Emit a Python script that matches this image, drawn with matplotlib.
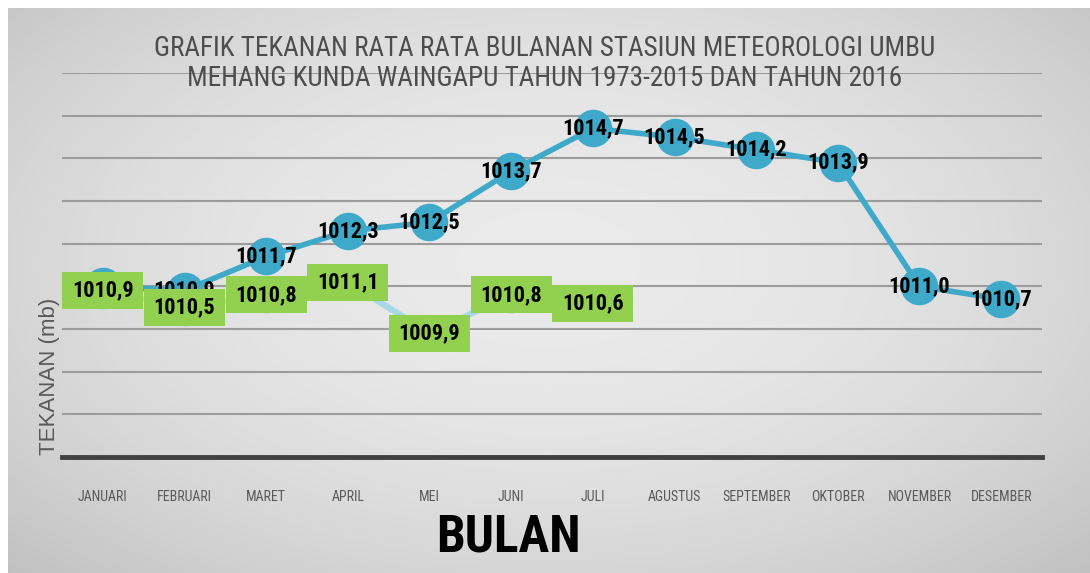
import numpy as np
import matplotlib
matplotlib.use('Agg')
import matplotlib.pyplot as plt
import matplotlib.transforms as mtransforms
from matplotlib.patches import Rectangle

months = ['JANUARI', 'FEBRUARI', 'MARET', 'APRIL', 'MEI', 'JUNI', 'JULI',
          'AGUSTUS', 'SEPTEMBER', 'OKTOBER', 'NOVEMBER', 'DESEMBER']
normal = [1011.0, 1010.9, 1011.7, 1012.3, 1012.5, 1013.7, 1014.7,
          1014.5, 1014.2, 1013.9, 1011.0, 1010.7]
tahun2016 = [1010.9, 1010.5, 1010.8, 1011.1, 1009.9, 1010.8, 1010.6]

narrow = ['Roboto Condensed', 'Liberation Sans Narrow', 'Roboto', 'DejaVu Sans']
W, H = 1090, 573

fig = plt.figure(figsize=(W / 100, H / 100), dpi=100)
fig.patch.set_facecolor('white')

# radial grey background of the chart area
bg = fig.add_axes([8 / W, 0, 1 - 8 / W, 1 - 8 / H], zorder=0)
gx, gy = np.meshgrid(np.linspace(-1, 1, 400), np.linspace(-1, 1, 220))
d = np.sqrt((gx / 1.05) ** 2 + ((gy + 0.1) / 1.15) ** 2)
shade = 0.92 - 0.09 * d ** 2
bg.imshow(np.dstack([shade] * 3), aspect='auto', extent=(0, 1, 0, 1))
bg.axis('off')

ax = fig.add_axes([62 / W, (H - 457) / H, (1042 - 62) / W, (457 - 73) / H], zorder=1)
ax.patch.set_alpha(0)
x = np.arange(len(months))

ax.plot(x, normal, color='#3fa9c9', lw=4, marker='o', ms=26,
        mec='#3fa9c9', zorder=3)
ax.plot(x[:len(tahun2016)], tahun2016, color='#a8d7e8', lw=4.5, marker='o', ms=25,
        mec='#a8d7e8', zorder=4)

for i, v in enumerate(normal):
    ax.text(i, v, f'{v:.1f}'.replace('.', ','), ha='center', va='center',
            fontsize=16, family=narrow, fontweight='bold', color='black', zorder=5)

# green label boxes of 2016 sit on top of everything
for i, v in enumerate(tahun2016):
    tr = fig.dpi_scale_trans + mtransforms.ScaledTranslation(i, v, ax.transData)
    ax.add_patch(Rectangle((-0.405, -0.185), 0.81, 0.37, transform=tr,
                           facecolor='#92d050', edgecolor='none', zorder=6,
                           clip_on=False))
    ax.text(i, v, f'{v:.1f}'.replace('.', ','), ha='center', va='center',
            fontsize=16, family=narrow, fontweight='bold', color='black', zorder=7)

ax.set_xlim(-0.5, len(months) - 0.5)
ax.set_ylim(1007, 1016)
ax.set_yticks(np.arange(1008, 1017))
ax.yaxis.grid(True, color='#9c9c9c', lw=1.5)
ax.set_axisbelow(True)
ax.tick_params(axis='y', length=0, labelleft=False)
ax.set_xticks(x)
ax.set_xticklabels(months, fontsize=10, family=narrow, color='#595959')
ax.tick_params(axis='x', length=0, pad=24)
for s in ['top', 'right', 'left']:
    ax.spines[s].set_visible(False)
ax.spines['bottom'].set_color('#404040')
ax.spines['bottom'].set_linewidth(3.5)

fig.text(0.5, 1 - 48 / H, 'GRAFIK TEKANAN RATA RATA BULANAN STASIUN METEOROLOGI UMBU',
         ha='center', va='center', fontsize=19.5, family=narrow, color='#4d4d4d')
fig.text(0.5, 1 - 78 / H, 'MEHANG KUNDA WAINGAPU TAHUN 1973-2015 DAN TAHUN 2016',
         ha='center', va='center', fontsize=19.5, family=narrow, color='#4d4d4d')
fig.text(50 / W, 1 - 376 / H, 'TEKANAN (mb)', rotation=90, ha='center', va='center',
         fontsize=16, family=['Liberation Sans', 'DejaVu Sans'], color='#595959')
fig.text(508 / W, 1 - 537 / H, 'BULAN', ha='center', va='center',
         fontsize=37, fontweight='bold', family=narrow, color='black')

fig.savefig('out.png', dpi=100)
